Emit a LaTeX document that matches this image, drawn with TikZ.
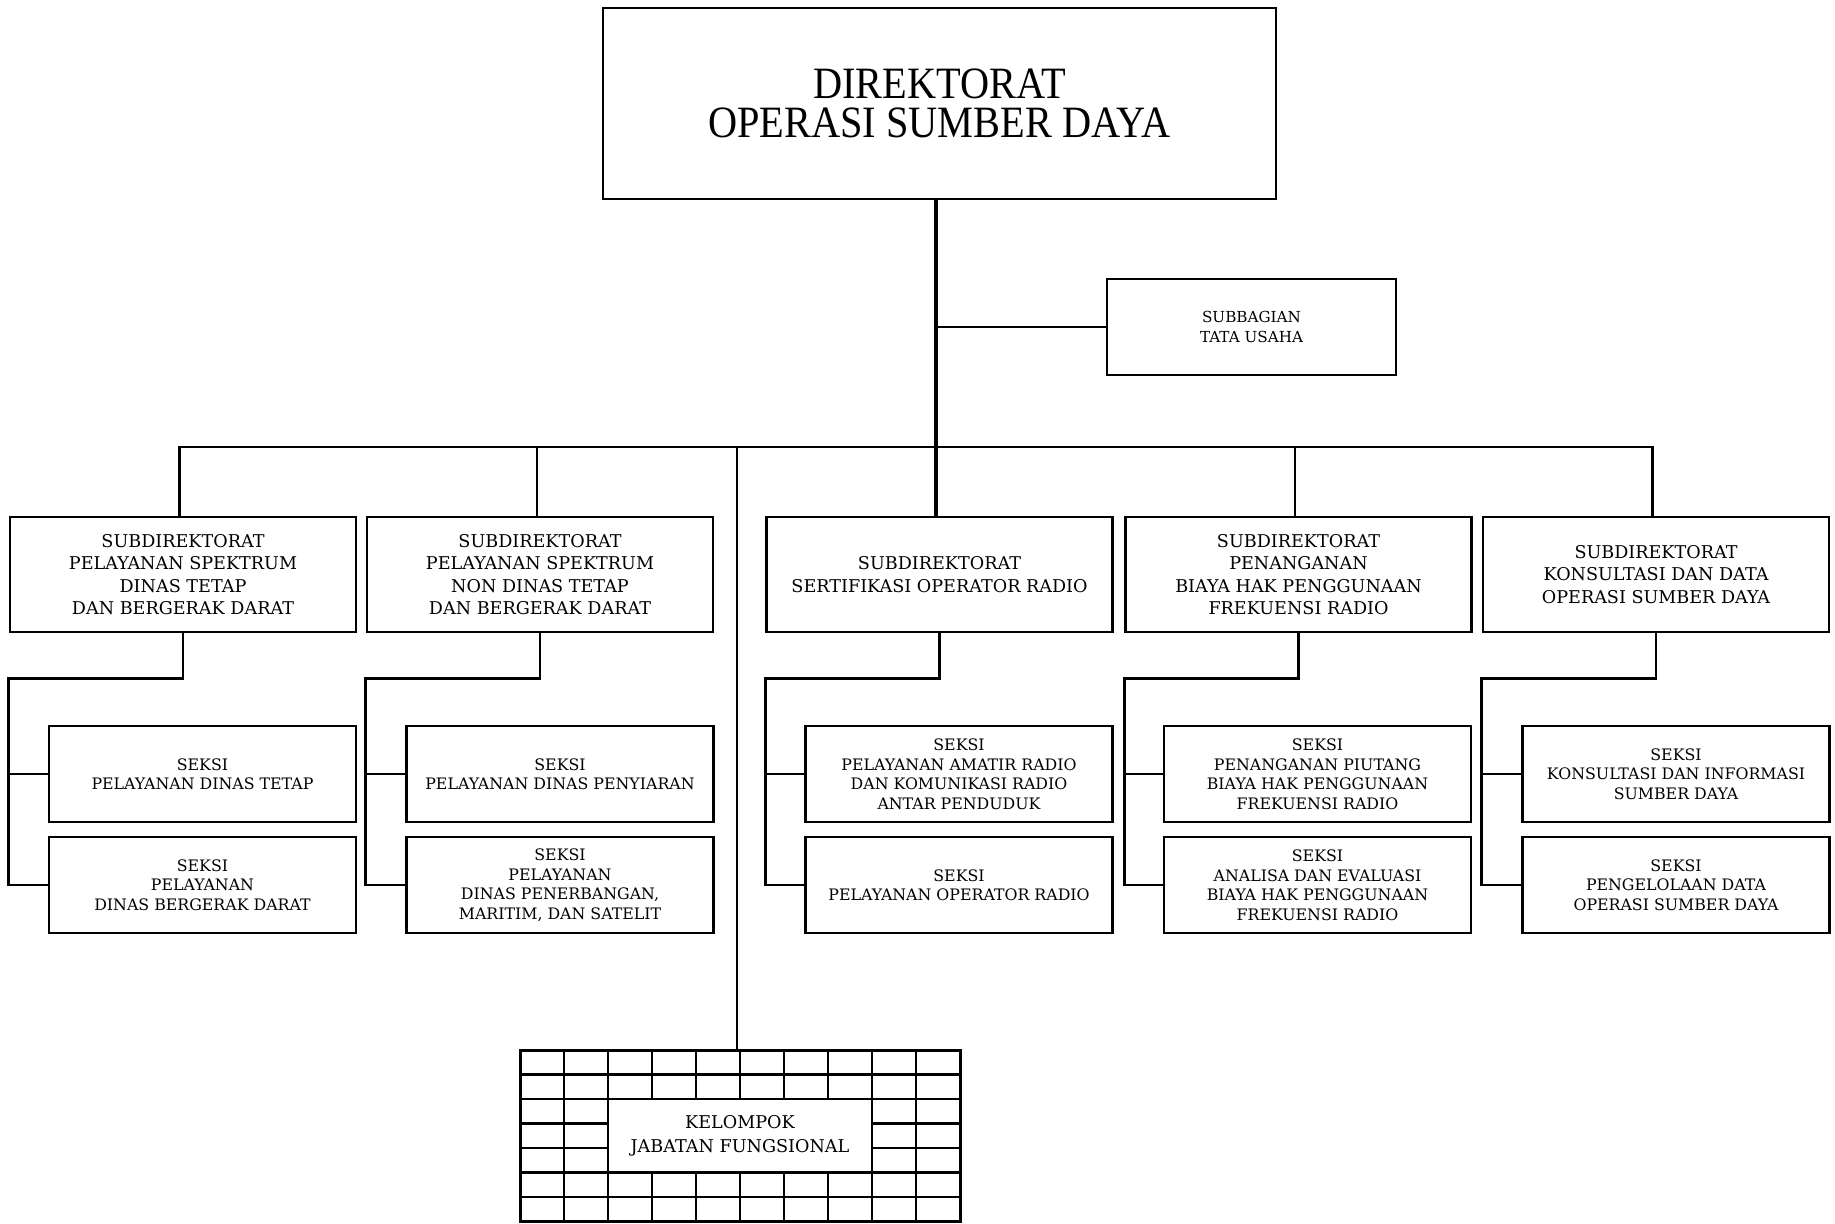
\documentclass[tikz,border=0pt]{standalone}
\usepackage{fontspec}
\setmainfont{DejaVu Serif}
\newfontfamily\titlefont[FakeStretch=0.9]{Liberation Serif}
\begin{document}
\begin{tikzpicture}[x=0.5pt,y=-0.5pt,
  box/.style={draw, line width=1.3pt, align=center, inner sep=0pt, fill=white},
  subdir/.style={box, minimum width=173pt, minimum height=57.5pt, font=\fontsize{8.8}{11.15}\selectfont},
  seksi/.style={box, minimum width=153.5pt, minimum height=48pt, font=\fontsize{7.9}{9.75}\selectfont},
  conn/.style={line width=1.3pt},
  mainline/.style={line width=1.8pt},
  gridline/.style={line width=1.1pt}]
\useasboundingbox (0,0) rectangle (1835,1223);

% top
\node[box, minimum width=336.5pt, minimum height=95.5pt, font=\titlefont\fontsize{22.4}{19.6}\selectfont] (top) at (939.5,103.5) {DIREKTORAT\\OPERASI SUMBER DAYA};
\node[box, minimum width=144.5pt, minimum height=48pt, font=\fontsize{7.6}{10}\selectfont] (sub) at (1251.5,327) {SUBBAGIAN\\TATA USAHA};

% subdirektorat
\node[subdir] (sd1) at (183,574.5) {SUBDIREKTORAT\\PELAYANAN SPEKTRUM\\DINAS TETAP\\DAN BERGERAK DARAT};
\node[subdir] (sd2) at (540,574.5) {SUBDIREKTORAT\\PELAYANAN SPEKTRUM\\NON DINAS TETAP\\DAN BERGERAK DARAT};
\node[subdir] (sd3) at (939.5,574.5) {SUBDIREKTORAT\\SERTIFIKASI OPERATOR RADIO};
\node[subdir] (sd4) at (1298.5,574.5) {SUBDIREKTORAT\\PENANGANAN\\BIAYA HAK PENGGUNAAN\\FREKUENSI RADIO};
\node[subdir] (sd5) at (1656,574.5) {SUBDIREKTORAT\\KONSULTASI DAN DATA\\OPERASI SUMBER DAYA};

% seksi
\node[seksi] (s1a) at (202.5,774) {SEKSI\\PELAYANAN DINAS TETAP};
\node[seksi] (s1b) at (202.5,885) {SEKSI\\PELAYANAN\\DINAS BERGERAK DARAT};
\node[seksi] (s2a) at (560,774) {SEKSI\\PELAYANAN DINAS PENYIARAN};
\node[seksi] (s2b) at (560,885) {SEKSI\\PELAYANAN\\DINAS PENERBANGAN,\\MARITIM, DAN SATELIT};
\node[seksi] (s3a) at (959,774) {SEKSI\\PELAYANAN AMATIR RADIO\\DAN KOMUNIKASI RADIO\\ANTAR PENDUDUK};
\node[seksi] (s3b) at (959,885) {SEKSI\\PELAYANAN OPERATOR RADIO};
\node[seksi] (s4a) at (1317.5,774) {SEKSI\\PENANGANAN PIUTANG\\BIAYA HAK PENGGUNAAN\\FREKUENSI RADIO};
\node[seksi] (s4b) at (1317.5,885) {SEKSI\\ANALISA DAN EVALUASI\\BIAYA HAK PENGGUNAAN\\FREKUENSI RADIO};
\node[seksi] (s5a) at (1676,774) {SEKSI\\KONSULTASI DAN INFORMASI\\SUMBER DAYA};
\node[seksi] (s5b) at (1676,885) {SEKSI\\PENGELOLAAN DATA\\OPERASI SUMBER DAYA};

% kelompok grid
\foreach \k in {1,2,8,9} \draw[gridline] (520+44*\k,1050) -- (520+44*\k,1221.5);
\foreach \k in {3,...,7} {
  \draw[gridline] (520+44*\k,1050) -- (520+44*\k,1099);
  \draw[gridline] (520+44*\k,1172.5) -- (520+44*\k,1221.5);
}
\foreach \j in {1,2,5,6} \draw[gridline] (520,1050+24.5*\j) -- (960,1050+24.5*\j);
\foreach \j in {3,4} {
  \draw[gridline] (520,1050+24.5*\j) -- (608,1050+24.5*\j);
  \draw[gridline] (872,1050+24.5*\j) -- (960,1050+24.5*\j);
}
\node[draw, line width=1.5pt, minimum width=220pt, minimum height=85.75pt, inner sep=0pt] (kel) at (740,1135.75) {};
\node[align=center, inner sep=0pt, font=\fontsize{8.8}{12}\selectfont] (kelt) at (740,1136) {KELOMPOK\\JABATAN FUNGSIONAL};

% connectors
\coordinate (bus) at (936,447);
\draw[mainline] ([xshift=-1.75pt]top.south) -- ([xshift=-1.75pt]sd3.north);
\draw[conn] (bus |- sub.west) -- (sub.west);
\draw[conn] ([xshift=-1.75pt]sd1.north) |- (bus) -| ([xshift=-1.75pt]sd5.north);
\draw[conn] ([xshift=-1.5pt]sd2.north) -- ([xshift=-1.5pt]sd2.north |- bus);
\draw[conn] ([xshift=-1.75pt]sd4.north) -- ([xshift=-1.75pt]sd4.north |- bus);
\draw[conn] (kel.north -| 737,0) -- (bus -| 737,0);

\foreach \i in {1,...,5} {
  \draw[conn] (sd\i.south) -- ++(0,45) -| (s\i b.west -| sd\i.west) -- (s\i b.west);
  \draw[conn] (s\i a.west -| sd\i.west) -- (s\i a.west);
}
\end{tikzpicture}
\end{document}
